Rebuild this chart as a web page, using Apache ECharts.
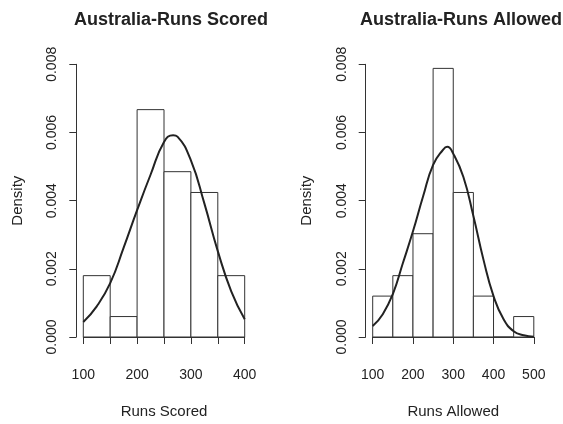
<!DOCTYPE html>
<html>
<head>
<meta charset="utf-8">
<script src="https://cdn.jsdelivr.net/npm/echarts@6/dist/echarts.min.js"></script>
<style>
html,body{margin:0;padding:0;background:#fff;}
#chart{width:563px;height:424px;}
</style>
</head>
<body>
<div id="chart"></div>
<script>
// ---- data ----
const scoredEdges = [100, 150, 200, 250, 300, 350, 400];
const scoredDensity = [0.0018, 0.0006, 0.00667, 0.00485, 0.00424, 0.0018];
const scoredCurveX = [100, 125, 150, 175, 200, 225, 250, 267, 275, 300, 325, 350, 375, 400];
const scoredCurveY = [0.00044, 0.0009, 0.00158, 0.00262, 0.00372, 0.00476, 0.00572, 0.00592, 0.00588, 0.00518, 0.00392, 0.00252, 0.00134, 0.00052];

const allowedEdges = [100, 150, 200, 250, 300, 350, 400, 450, 500];
const allowedDensity = [0.0012, 0.0018, 0.00303, 0.00788, 0.00424, 0.0012, 0, 0.0006];
const allowedCurveX = [100, 125, 150, 175, 200, 225, 250, 275, 285, 300, 325, 350, 375, 400, 425, 450, 475, 500];
const allowedCurveY = [0.00032, 0.00067, 0.00126, 0.00217, 0.0031, 0.00412, 0.00505, 0.0055, 0.00558, 0.00538, 0.0047, 0.00355, 0.00227, 0.0012, 0.00052, 0.00017, 0.00005, 0.00001];

const titles = ['Australia-Runs Scored', 'Australia-Runs Allowed'];
const xNames = ['Runs Scored', 'Runs Allowed'];
const yName = 'Density';
const yTicks = [0, 0.002, 0.004, 0.006, 0.008];

// ---- build ----
function bins(edges, dens) {
  return dens.map((d, i) => [edges[i], edges[i + 1], d]);
}
function pts(xs, ys) { return xs.map((x, i) => [x, ys[i]]); }

const FONT = 'Liberation Sans, Arial, Helvetica, sans-serif';
const INK = '#222';

function renderBar(params, api) {
  const x0 = api.value(0), x1 = api.value(1), y = api.value(2);
  const p0 = api.coord([x0, y]);
  const p1 = api.coord([x1, 0]);
  return {
    type: 'rect',
    shape: { x: p0[0], y: p0[1], width: p1[0] - p0[0], height: p1[1] - p0[1] },
    style: { fill: '#fff', stroke: '#333', lineWidth: 1 }
  };
}

const grids = [
  { left: 83.3, right: 318.3, top: 64.3, bottom: 86.7 },
  { left: 372.7, right: 29.2, top: 64.3, bottom: 86.7 }
];

function xAxis(i, min, max, interval, labelEvery) {
  return {
    type: 'value', gridIndex: i, min: min, max: max, interval: interval,
    offset: 13,
    axisLine: { show: true, lineStyle: { color: '#333', width: 1 } },
    axisTick: { show: true, length: 7, lineStyle: { color: '#333' } },
    splitLine: { show: false },
    axisLabel: {
      margin: 18, color: INK, fontFamily: FONT, fontSize: 14,
      formatter: v => (v % labelEvery === 0 ? String(v) : '')
    },
    name: xNames[i], nameLocation: 'middle', nameGap: 54,
    nameTextStyle: { color: INK, fontFamily: FONT, fontSize: 15 }
  };
}
function yAxis(i) {
  return {
    type: 'value', gridIndex: i, min: yTicks[0], max: yTicks[yTicks.length - 1],
    interval: yTicks[1] - yTicks[0],
    offset: 7,
    axisLine: { show: true, lineStyle: { color: '#333', width: 1 } },
    axisTick: { show: true, length: 7, lineStyle: { color: '#333' } },
    splitLine: { show: false },
    axisLabel: {
      rotate: 90, margin: 17, color: INK, fontFamily: FONT, fontSize: 14,
      formatter: v => v.toFixed(3)
    },
    name: yName, nameLocation: 'middle', nameGap: 51, nameRotate: 90,
    nameTextStyle: { color: INK, fontFamily: FONT, fontSize: 15 }
  };
}

const option = {
  backgroundColor: '#fff',
  animation: false,
  title: [
    { text: titles[0], left: 166, top: 6, textAlign: 'center',
      textStyle: { fontFamily: FONT, fontSize: 18, fontWeight: 'bold', color: INK } },
    { text: titles[1], left: 456, top: 6, textAlign: 'center',
      textStyle: { fontFamily: FONT, fontSize: 18, fontWeight: 'bold', color: INK } }
  ],
  grid: grids,
  xAxis: [xAxis(0, 100, 400, 50, 100), xAxis(1, 100, 500, 100, 100)],
  yAxis: [yAxis(0), yAxis(1)],
  series: [
    { type: 'custom', xAxisIndex: 0, yAxisIndex: 0, renderItem: renderBar,
      encode: { x: [0, 1], y: 2 }, data: bins(scoredEdges, scoredDensity), z: 2 },
    { type: 'line', xAxisIndex: 0, yAxisIndex: 0, data: pts(scoredCurveX, scoredCurveY),
      smooth: 0.5, showSymbol: false, lineStyle: { color: INK, width: 2 }, z: 3 },
    { type: 'custom', xAxisIndex: 1, yAxisIndex: 1, renderItem: renderBar,
      encode: { x: [0, 1], y: 2 }, data: bins(allowedEdges, allowedDensity), z: 2 },
    { type: 'line', xAxisIndex: 1, yAxisIndex: 1, data: pts(allowedCurveX, allowedCurveY),
      smooth: 0.5, showSymbol: false, lineStyle: { color: INK, width: 2 }, z: 3 }
  ]
};

const chart = echarts.init(document.getElementById('chart'), null, { renderer: 'canvas' });
chart.setOption(option);
</script>
</body>
</html>
